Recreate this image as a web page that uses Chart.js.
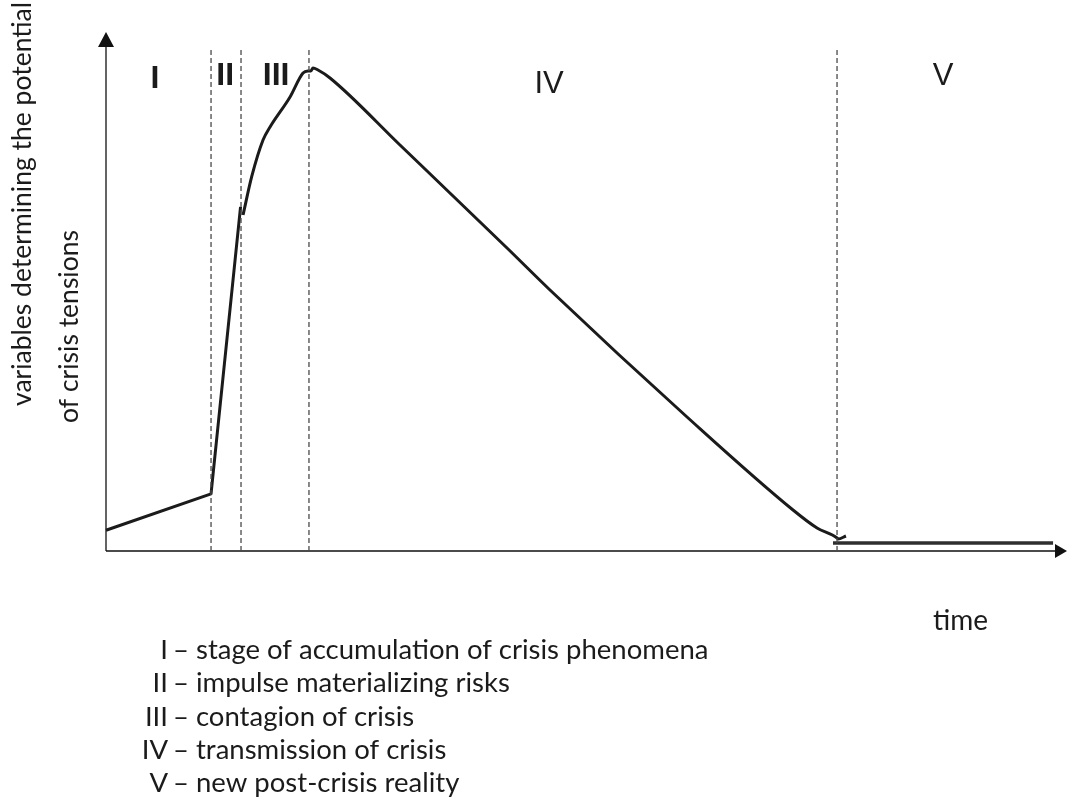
<!DOCTYPE html>
<html>
<head>
<meta charset="utf-8">
<title>Crisis phases</title>
<script src="https://cdn.jsdelivr.net/npm/chart.js@4/dist/chart.umd.min.js"></script>
<style>
  html, body { margin: 0; padding: 0; background: #fff; }
  #wrap { width: 1067px; height: 809px; position: relative; }
</style>
</head>
<body>
<div id="wrap"><canvas id="chart" width="1067" height="809"></canvas></div>
<script>
// phase boundaries on the time axis (0..100)
const phaseBounds = [10.93, 14.05, 21.12, 76.07];
const phaseNames = ['I', 'II', 'III', 'IV', 'V'];
const phaseMid = [5.1, 12.4, 17.7, 46.1, 87.1];
const phaseDesc = [
  'stage of accumulation of crisis phenomena',
  'impulse materializing risks',
  'contagion of crisis',
  'transmission of crisis',
  'new post-crisis reality',
];

// build-up and impulse
const riseTime = [0, 10.93, 14.0];
const riseLevel = [4.0, 11.0, 66.3];
// contagion up to the peak, then the long transmission decline
const peakTime = [14.26, 15.16, 16.34, 17.07, 19.15, 20.5, 21.02, 21.33, 21.54, 22.06, 23.31, 30.59, 41.73, 46.2, 60.46, 71.49, 73.99, 76.07, 76.17, 77.0];
const peakLevel = [64.74, 72.12, 79.19, 81.7, 87.48, 92.1, 92.49, 92.49, 93.07, 92.68, 91.14, 78.23, 58.38, 50.29, 25.82, 7.9, 4.43, 2.5, 2.31, 2.89];
// new post-crisis level
const afterTime = [75.65, 98.55];
const afterLevel = [1.54, 1.54];
const boundTop = 97;

const INK = '#1b1b1b';
const pts = (xs, ys) => xs.map((x, i) => ({ x, y: ys[i] }));

const datasets = [];
for (const b of phaseBounds) {
  datasets.push({
    data: [{ x: b, y: 0 }, { x: b, y: boundTop }],
    borderColor: '#4a4a4a', borderWidth: 1.3, borderDash: [5, 3], pointRadius: 0,
  });
}
datasets.push({ data: pts(riseTime, riseLevel), borderColor: INK, borderWidth: 3, pointRadius: 0, tension: 0 });
datasets.push({ data: pts(peakTime, peakLevel), borderColor: INK, borderWidth: 3, pointRadius: 0, cubicInterpolationMode: 'monotone' });
datasets.push({ data: pts(afterTime, afterLevel), borderColor: '#2e2e2e', borderWidth: 3.5, pointRadius: 0, tension: 0 });

// axes with arrow heads plus all the annotation text
const decor = {
  id: 'decor',
  beforeDatasetsDraw(chart) {
    const { ctx, chartArea: a } = chart;
    ctx.save();
    ctx.strokeStyle = '#111';
    ctx.fillStyle = '#111';
    ctx.lineWidth = 1.3;
    ctx.beginPath();
    ctx.moveTo(a.left, a.bottom); ctx.lineTo(a.left, a.top + 10);
    ctx.moveTo(a.left, a.bottom); ctx.lineTo(a.right - 8, a.bottom);
    ctx.stroke();
    ctx.beginPath();
    ctx.moveTo(a.left, a.top); ctx.lineTo(a.left - 8, a.top + 15); ctx.lineTo(a.left + 8, a.top + 15);
    ctx.closePath(); ctx.fill();
    ctx.beginPath();
    ctx.moveTo(a.right, a.bottom); ctx.lineTo(a.right - 12, a.bottom - 7); ctx.lineTo(a.right - 12, a.bottom + 7);
    ctx.closePath(); ctx.fill();
    ctx.restore();
  },
  afterDraw(chart) {
    const { ctx, scales: { x } } = chart;
    ctx.save();
    ctx.fillStyle = INK;
    ctx.textAlign = 'center';
    ctx.textBaseline = 'alphabetic';
    phaseNames.forEach((n, i) => {
      const narrow = i < 3;
      ctx.font = narrow ? 'bold 32px "Liberation Sans"' : '31px "Liberation Sans"';
      const base = i === 0 ? 88 : i < 3 ? 85 : i === 3 ? 93 : 85;
      ctx.fillText(n, x.getPixelForValue(phaseMid[i]), base);
    });

    // axis titles
    ctx.font = '28px Lato';
    ctx.textAlign = 'left';
    ctx.fillText('time', 933, 630);
    ctx.font = '26.5px Lato';
    ctx.save();
    ctx.translate(31, 406);
    ctx.rotate(-Math.PI / 2);
    ctx.fillText('variables determining the potential', 0, 0);
    ctx.restore();
    ctx.save();
    ctx.translate(78, 230);
    ctx.rotate(-Math.PI / 2);
    ctx.textAlign = 'right';
    ctx.fillText('of crisis tensions', 0, 0);
    ctx.restore();

    // phase key
    ctx.font = '27.5px Lato';
    phaseNames.forEach((n, i) => {
      const y = 659 + i * 33.3;
      ctx.textAlign = 'right';
      ctx.fillText(n, 168, y);
      ctx.textAlign = 'left';
      ctx.fillText('– ' + phaseDesc[i], 173, y);
    });
    ctx.restore();
  },
};

new Chart(document.getElementById('chart'), {
  type: 'line',
  data: { datasets },
  options: {
    responsive: false, animation: false, events: [],
    layout: { padding: { left: 106, right: 0, top: 32, bottom: 258 } },
    plugins: { legend: { display: false }, tooltip: { enabled: false } },
    elements: { line: { borderCapStyle: 'butt', borderJoinStyle: 'round' } },
    datasets: { line: { clip: false, spanGaps: false } },
    scales: {
      x: { type: 'linear', min: 0, max: 100, display: false },
      y: { type: 'linear', min: 0, max: 100, display: false },
    },
  },
  plugins: [decor],
});
</script>
</body>
</html>
